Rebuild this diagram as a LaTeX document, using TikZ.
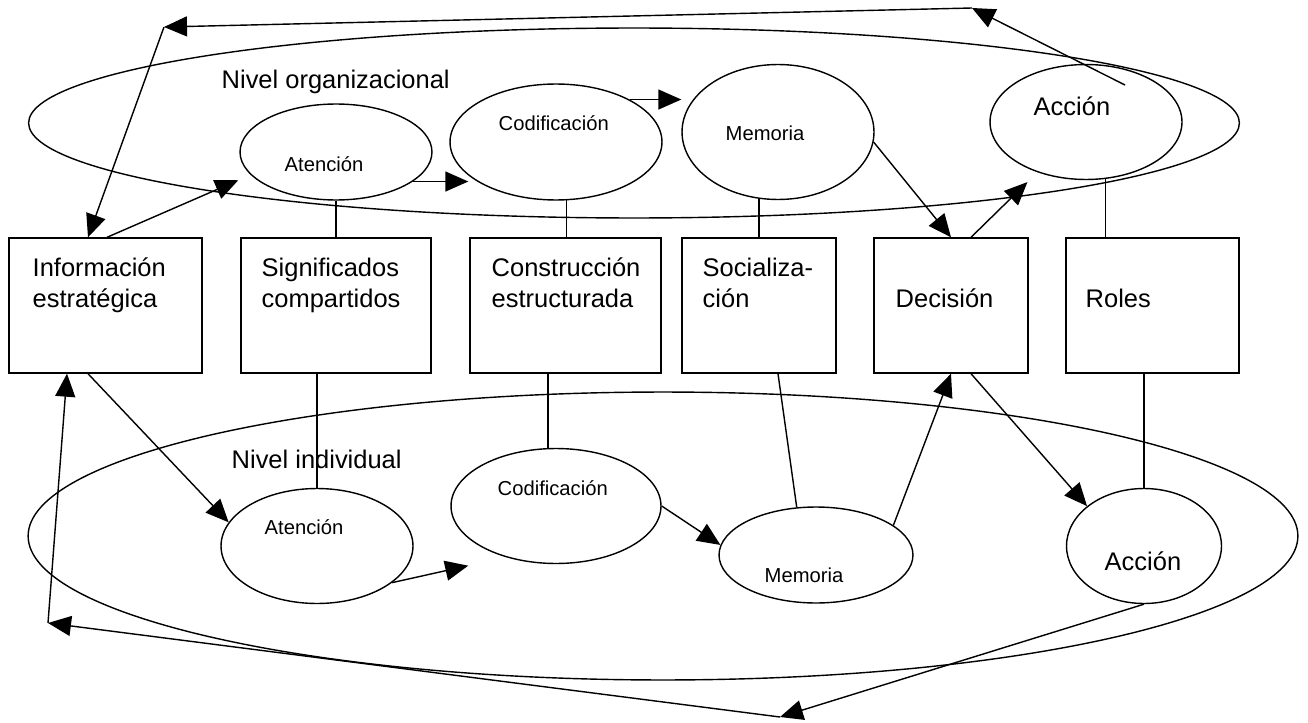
\documentclass[tikz,border=0pt]{standalone}
\usepackage{fontspec}
\setmainfont{Liberation Sans}
\usetikzlibrary{shapes.geometric,arrows.meta}

\begin{document}
\begin{tikzpicture}[x=0.02cm,y=-0.02cm,line width=0.8pt,
    ell/.style={shape=ellipse, draw, inner sep=0pt},
    bx/.style={shape=rectangle, draw, minimum height=2.7cm},
    arr/.style={-{Triangle[length=0.46cm,width=0.4cm]}},
    big/.style={anchor=base west, inner sep=0pt, align=left, font=\fontsize{14.5}{17.6}\selectfont},
    sml/.style={anchor=base west, inner sep=0pt, font=\fontsize{11.5}{14}\selectfont}]
    \useasboundingbox (0,0) rectangle (1308,723);

    % the two levels
    \node[ell, minimum width=24.22cm, minimum height=3.8cm] (org) at (634,123) {};
    \node[ell, minimum width=25.4cm, minimum height=5.76cm] (ind) at (663,536) {};
    \node[big] (torg) at (221,89) {Nivel organizacional};
    \node[big] (tind) at (231,468) {Nivel individual};

    % boxes
    \node[bx, minimum width=3.86cm] (b1) at (105.5,305.5) {};
    \node[bx, minimum width=3.8cm] (b2) at (336,305.5) {};
    \node[bx, minimum width=3.82cm] (b3) at (565.5,305.5) {};
    \node[bx, minimum width=3.08cm] (b4) at (759,305.5) {};
    \node[bx, minimum width=3.08cm] (b5) at (951,305.5) {};
    \node[bx, minimum width=3.46cm] (b6) at (1152.5,305.5) {};
    \node[big] (t1) at (32,307) {Información\\estratégica};
    \node[big] (t2) at (261,307) {Significados\\compartidos};
    \node[big] (t3) at (491,307) {Construcción\\estructurada};
    \node[big] (t4) at (702,307) {Socializa{-}\\ción};
    \node[big] (t5) at (895,307) {Decisión};
    \node[big] (t6) at (1085,307) {Roles};

    % organizacional
    \node[ell, minimum width=3.84cm, minimum height=1.92cm] (aO) at (336,152) {};
    \node[ell, minimum width=4.24cm, minimum height=2.32cm] (cO) at (556,142) {};
    \node[ell, minimum width=3.84cm, minimum height=2.7cm] (mO) at (778,132) {};
    \node[ell, minimum width=3.84cm, minimum height=2.3cm] (acO) at (1086,122) {};
    \node[sml] (taO) at (284,172) {Atención};
    \node[sml] (tcO) at (498,131) {Codificación};
    \node[sml] (tmO) at (725,140) {Memoria};
    \node[big] (tacO) at (1033,115) {Acción};

    % individual
    \node[ell, minimum width=3.84cm, minimum height=2.3cm] (aI) at (317,546) {};
    \node[ell, minimum width=4.2cm, minimum height=2.3cm] (cI) at (556,506) {};
    \node[ell, minimum width=3.88cm, minimum height=1.92cm] (mI) at (816,555) {};
    \node[ell, minimum width=3.1cm, minimum height=2.3cm] (acI) at (1144,546) {};
    \node[sml] (taI) at (264,534) {Atención};
    \node[sml] (tcI) at (497,495) {Codificación};
    \node[sml] (tmI) at (764,582) {Memoria};
    \node[big] (tacI) at (1104,570) {Acción};

    % feedback loops
    \coordinate (tr) at (972,8);
    \coordinate (tl) at (164,27);
    \coordinate (bm) at (780,717);
    \coordinate (bl) at (48,623);
    \draw[arr] ([xshift=0.78cm,yshift=0.74cm]acO.center) -- (tr);
    \draw[arr] (tr) -- (tl);
    \draw[arr] (tl) -- ([xshift=-0.35cm]b1.north);
    \draw[arr] (acI.south) -- (bm);
    \draw[arr] (bm) -- (bl);
    \draw[arr] (bl) -- ([xshift=-0.77cm]b1.south);

    % upper connectors
    \draw[arr, shorten >=0.27cm] ([xshift=0.03cm]b1.north) -- (aO.195);
    \draw[arr, shorten >=-0.38cm] (aO.-21) -- (aO.-21 -| cO.west);
    \draw[arr] (cO.30) -- (cO.30 -| mO.west);
    \draw[arr] (mO.-6) -- (b5.north);
    \draw[arr, shorten >=0.28cm] ([xshift=0.4cm]b5.north) -- (acO.226);
    \draw (aO.south) -- (aO.south |- b2.north);
    \draw (cO.-80) -- (cO.-80 |- b3.north);
    \draw (mO.-106) -- (mO.-106 |- b4.north);
    \draw (acO.-71) -- (acO.-71 |- b6.north);

    % lower connectors
    \draw[arr] ([xshift=-0.35cm]b1.south) -- (aI.165);
    \draw[arr] (aI.-26) -- ([xshift=-0.26cm,yshift=-0.37cm]cI.south west);
    \draw[arr] (cI.east) -- (mI.174);
    \draw[arr] (mI.21) -- (b5.south);
    \draw[arr] ([xshift=0.4cm]b5.south) -- (acI.145);
    \draw (aI.north |- b2.south) -- (aI.north);
    \draw (cI.98 |- b3.south) -- (cI.98);
    \draw ([xshift=0.38cm]b4.south) -- (mI.112);
    \draw (acI.north |- b6.south) -- (acI.north);
\end{tikzpicture}
\end{document}
